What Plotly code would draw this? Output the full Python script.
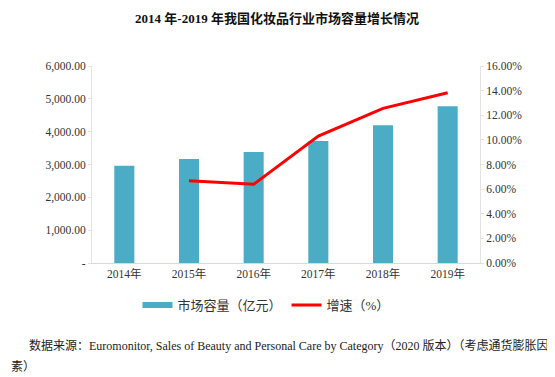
import plotly.graph_objects as go

years = ["2014年", "2015年", "2016年", "2017年", "2018年", "2019年"]
market_size = [2963, 3168, 3381, 3716, 4193, 4772]
growth_years = ["2015年", "2016年", "2017年", "2018年", "2019年"]
growth_pct = [6.68, 6.39, 10.31, 12.56, 13.83]

left_ticks = [0, 1000, 2000, 3000, 4000, 5000, 6000]
left_labels = ["-", "1,000.00", "2,000.00", "3,000.00", "4,000.00", "5,000.00", "6,000.00"]
right_ticks = [0, 2, 4, 6, 8, 10, 12, 14, 16]
right_labels = ["%.2f%%" % v for v in right_ticks]

serif = "Liberation Serif, Noto Sans CJK SC, serif"
BAR = "#4BACC6"

# page has an 8px body margin; plot area spans page x 92..480, y 66..263
W, H = 547, 369
L, R, T, B = 84, 75, 58, 114
PW, PH = W - L - R, H - T - B

fig = go.Figure()
fig.add_trace(go.Bar(x=years, y=market_size, name="市场容量（亿元）", showlegend=False,
                     legendgroup="m",
                     marker=dict(color=BAR, line=dict(width=0)), yaxis="y"))
# legend entry for bars drawn as a thick swatch
fig.add_trace(go.Scatter(x=[None], y=[None], name="市场容量（亿元）", mode="lines",
                         legendgroup="m", line=dict(color=BAR, width=6), yaxis="y"))
fig.add_trace(go.Scatter(x=growth_years, y=growth_pct, name="增速（%）", mode="lines",
                         line=dict(color="#FF0000", width=3), yaxis="y2"))

fig.update_layout(
    width=W, height=H,
    margin=dict(l=L, r=R, t=T, b=B, autoexpand=False),
    paper_bgcolor="white", plot_bgcolor="white",
    bargap=0.69,
    showlegend=True,
    legend=dict(orientation="h", x=(266 - 92) / PW, xanchor="center",
                y=-(305 - 263) / PH, yanchor="middle",
                font=dict(family=serif, size=13, color="#333333"),
                itemwidth=30, tracegroupgap=0),
    title=dict(text="<b>2014 年-2019 年我国化妆品行业市场容量增长情况</b>",
               x=(277 - 8) / W, xanchor="center", y=1 - (18 - 8) / H, yanchor="middle",
               font=dict(family=serif, size=13, color="#111111")),
    xaxis=dict(type="category", categoryorder="array", categoryarray=years,
               showline=True, linecolor="#D9D9D9", linewidth=1,
               ticks="", showgrid=False,
               tickfont=dict(family=serif, size=11.5, color="#333333")),
    yaxis=dict(range=[0, 6000], tickvals=left_ticks, ticktext=left_labels,
               showline=True, linecolor="#E3E3E3", linewidth=1,
               ticks="outside", ticklen=3, tickcolor="#E3E3E3",
               showgrid=False, zeroline=False,
               tickfont=dict(family=serif, size=11.5, color="#333333")),
    yaxis2=dict(range=[0, 16], tickvals=right_ticks, ticktext=right_labels,
                overlaying="y", side="right",
                showline=True, linecolor="#E3E3E3", linewidth=1,
                ticks="outside", ticklen=3, tickcolor="#E3E3E3",
                showgrid=False, zeroline=False,
                tickfont=dict(family=serif, size=11.5, color="#333333")),
)

fig.add_annotation(text="数据来源：Euromonitor, Sales of Beauty and Personal Care by Category（2020 版本）（考虑通货膨胀因",
                   xref="paper", yref="paper", x=(27 - 92) / PW, y=-(345 - 263) / PH,
                   xanchor="left", yanchor="middle", showarrow=False,
                   font=dict(family=serif, size=12, color="#222222"))
fig.add_annotation(text="素）",
                   xref="paper", yref="paper", x=(9 - 92) / PW, y=-(367 - 263) / PH,
                   xanchor="left", yanchor="middle", showarrow=False,
                   font=dict(family=serif, size=12, color="#222222"))

fig.write_html("out.html")
